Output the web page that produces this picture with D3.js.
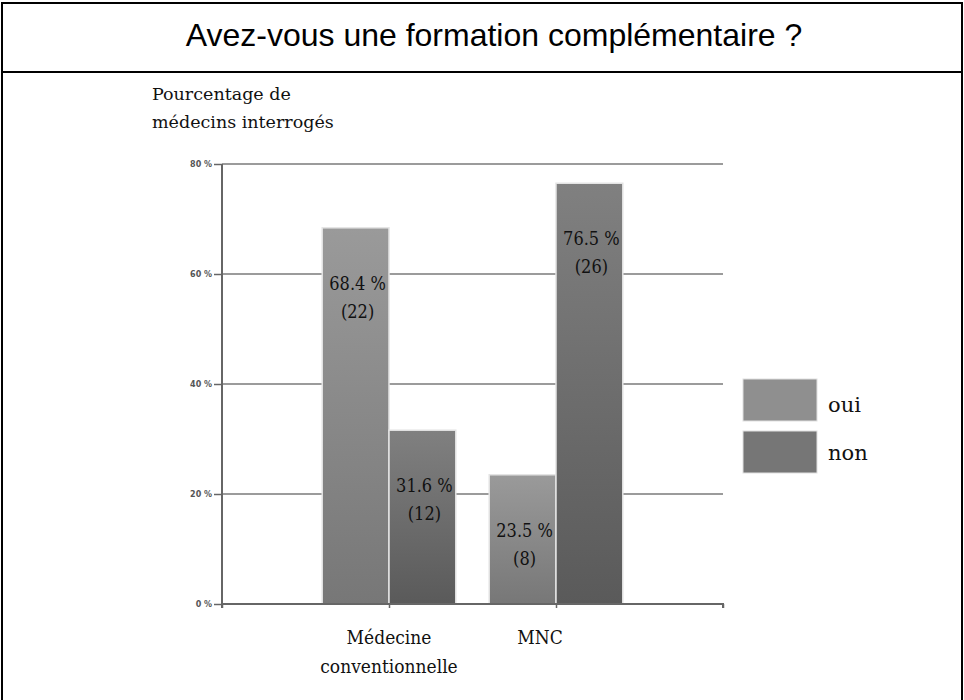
<!DOCTYPE html>
<html>
  <head>
    <meta charset="utf-8">
    <script src="https://d3js.org/d3.v7.min.js"></script>
    <style>
      body { margin: 0; background: #fff; }
    </style>
  </head>
  <body>
    <div id="chart"></div>
    <script>
    // data
    var categories = ["Médecine conventionnelle", "MNC"];
    var series = ["oui", "non"];
    var ouiValues = [68.4, 23.5];
    var nonValues = [31.6, 76.5];
    var ouiCounts = [22, 8];
    var nonCounts = [12, 26];
    var yTicks = [0, 20, 40, 60, 80];

    var width = 964, height = 700;
    var serifFont = "'DejaVu Serif', serif";

    var svg = d3.select("#chart")
      .append("svg")
      .attr("width", width)
      .attr("height", height);

    var defs = svg.append("defs");
    function grad(id, top, bottom) {
      var g = defs.append("linearGradient").attr("id", id)
        .attr("x1", 0).attr("y1", 0).attr("x2", 0).attr("y2", 1);
      g.append("stop").attr("offset", "0%").attr("stop-color", top);
      g.append("stop").attr("offset", "100%").attr("stop-color", bottom);
    }
    grad("gOui", "#9a9a9a", "#777777");
    grad("gNon", "#808080", "#5a5a5a");
    var fills = {oui: "url(#gOui)", non: "url(#gNon)"};
    var legendFills = {oui: "#8f8f8f", non: "#767676"};

    // frame and title
    svg.append("rect")
      .attr("x", 2).attr("y", 3).attr("width", 960).attr("height", 710)
      .attr("fill", "none").attr("stroke", "#000").attr("stroke-width", 2);
    svg.append("line")
      .attr("x1", 2).attr("x2", 962).attr("y1", 72).attr("y2", 72)
      .attr("stroke", "#000").attr("stroke-width", 2);
    svg.append("text")
      .attr("x", 494).attr("y", 46)
      .attr("text-anchor", "middle")
      .style("font-family", "'Liberation Sans', Arial, sans-serif")
      .style("font-size", "32px")
      .text("Avez-vous une formation complémentaire ?");

    // scales
    var y = d3.scaleLinear().domain([0, 80]).range([604, 164]);
    var x = d3.scaleLinear().domain([-1, 2]).range([222, 723]);
    var bw = (x(1) - x(0)) * 0.4;

    // grid lines
    svg.append("g")
      .selectAll("line")
      .data(yTicks.filter(function (d) { return d > 0; }))
      .enter().append("line")
      .attr("x1", x(-1)).attr("x2", x(2))
      .attr("y1", function (d) { return y(d); })
      .attr("y2", function (d) { return y(d); })
      .attr("stroke", "#7a7a7a").attr("stroke-width", 1.5);

    // y axis
    var yAxis = svg.append("g")
      .attr("transform", "translate(" + x(-1) + ",0)")
      .call(d3.axisLeft(y).tickValues(yTicks).tickSize(8).tickPadding(2)
        .tickFormat(function (d) { return d + " %"; }));
    yAxis.select(".domain").attr("stroke", "#666").attr("stroke-width", 2)
      .attr("d", "M0," + y(80) + "V" + (y(0) + 4));
    yAxis.selectAll(".tick line").attr("stroke", "#666").attr("stroke-width", 1.5);
    yAxis.selectAll(".tick text")
      .attr("fill", "#555")
      .style("font-family", "'DejaVu Sans', sans-serif")
      .style("font-size", "8px")
      .style("font-weight", "bold");

    // x axis
    var xAxis = svg.append("g")
      .attr("transform", "translate(0," + y(0) + ")")
      .call(d3.axisBottom(x).tickValues([-1, 0, 1, 2]).tickSize(4).tickFormat(""));
    xAxis.select(".domain").attr("stroke", "#666").attr("stroke-width", 2)
      .attr("d", "M" + x(-1) + ",0H" + x(2) + "V4");
    xAxis.selectAll(".tick line").attr("stroke", "#666").attr("stroke-width", 1.5);

    // bars
    var rows = [];
    categories.forEach(function (c, i) {
      rows.push({s: "oui", i: i, v: ouiValues[i], n: ouiCounts[i], x0: x(i) - bw});
      rows.push({s: "non", i: i, v: nonValues[i], n: nonCounts[i], x0: x(i)});
    });

    svg.append("g")
      .selectAll("rect")
      .data(rows)
      .enter().append("rect")
      .attr("x", function (d) { return d.x0; })
      .attr("y", function (d) { return y(d.v); })
      .attr("width", bw)
      .attr("height", function (d) { return y(0) - y(d.v); })
      .attr("fill", function (d) { return fills[d.s]; })
      .attr("stroke", "#e4e4e4").attr("stroke-width", 1.5);

    // redraw x axis line over bars
    svg.append("line")
      .attr("x1", x(-1)).attr("x2", x(2)).attr("y1", y(0)).attr("y2", y(0))
      .attr("stroke", "#666").attr("stroke-width", 2);

    // value labels
    rows.forEach(function (d) {
      var cx = d.x0 + bw / 2 + 2;
      [d.v.toFixed(1) + " %", "(" + d.n + ")"].forEach(function (t, k) {
        svg.append("text")
          .attr("x", cx).attr("y", y(d.v) + 62 + k * 28)
          .attr("text-anchor", "middle")
          .attr("fill", "#111")
          .style("font-family", serifFont)
          .style("font-size", "18px")
          .style("font-stretch", "semi-condensed")
          .text(t);
      });
    });

    // category labels
    categories.forEach(function (c, i) {
      c.split(" ").forEach(function (w, k) {
        svg.append("text")
          .attr("x", x(i) - (i === 1 ? 16 : 0))
          .attr("y", 644 + k * 29)
          .attr("text-anchor", "middle")
          .attr("fill", "#111")
          .style("font-family", serifFont)
          .style("font-size", "19px")
          .style("font-stretch", "condensed")
          .text(w);
      });
    });

    // y axis title
    ["Pourcentage de", "médecins interrogés"].forEach(function (t, k) {
      svg.append("text")
        .attr("x", 152).attr("y", 100 + k * 28)
        .attr("fill", "#111")
        .style("font-family", serifFont)
        .style("font-size", "17.5px")
        .text(t);
    });

    // legend
    series.forEach(function (s, k) {
      svg.append("rect")
        .attr("x", 743).attr("y", 379 + k * 52)
        .attr("width", 74).attr("height", 42)
        .attr("fill", legendFills[s])
        .attr("stroke", "#e0e0e0").attr("stroke-width", 1);
      svg.append("text")
        .attr("x", 828).attr("y", 412 + k * 48)
        .attr("fill", "#111")
        .style("font-family", serifFont)
        .style("font-size", "21px")
        .text(s);
    });
    </script>
  </body>
</html>
